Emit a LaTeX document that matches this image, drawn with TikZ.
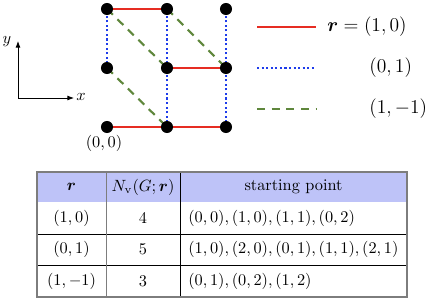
\documentclass[tikz,border=0pt]{standalone}
\usepackage{amsmath,bm}
\usetikzlibrary{arrows.meta,backgrounds}
\definecolor{redE}{RGB}{230,45,35}
\definecolor{blueE}{RGB}{30,60,235}
\definecolor{greenE}{RGB}{95,135,60}
\definecolor{headF}{RGB}{190,195,248}
\definecolor{borderG}{RGB}{125,125,125}
\begin{document}
\begin{tikzpicture}[x=0.6135pt,y=-0.6135pt,
  dot/.style={circle,fill=black,inner sep=0pt,minimum size=7.4pt},
  rline/.style={draw=redE,line width=1.4pt},
  bline/.style={draw=blueE,line width=1.4pt,dash pattern=on 1.3pt off 1.5pt},
  gline/.style={draw=greenE,line width=1.3pt,dash pattern=on 5pt off 4pt},
  leg/.style={font=\fontsize{12.7}{15}\selectfont,anchor=west,inner sep=0pt},
  cell/.style={inner sep=0pt},
  axisarrow/.style={draw=black,line width=0.5pt,-{Latex[length=4pt,width=3pt]}},
  rowline/.style={draw=black,line width=0.6pt},
  frame/.style={draw=borderG,line width=1pt}
]
\useasboundingbox (0,0) rectangle (436,301);

% lattice points
\node[dot] (v00) at (107,127) {};
\node[dot] (v10) at (167,127) {};
\node[dot] (v20) at (226,127) {};
\node[dot] (v01) at (107,68) {};
\node[dot] (v11) at (167,68) {};
\node[dot] (v21) at (226,68) {};
\node[dot] (v02) at (107,9) {};
\node[dot] (v12) at (167,9) {};
\node[dot] (v22) at (226,9) {};

\begin{scope}[on background layer]
  \draw[rline] (v00.center) -- (v10.center);
  \draw[rline] (v10.center) -- (v20.center);
  \draw[rline] (v11.center) -- (v21.center);
  \draw[rline] (v02.center) -- (v12.center);
  \draw[bline] (v01.center) -- (v02.center);
  \draw[bline] (v10.center) -- (v11.center);
  \draw[bline] (v11.center) -- (v12.center);
  \draw[bline] (v20.center) -- (v21.center);
  \draw[bline] (v21.center) -- (v22.center);
  \draw[gline] (v02.center) -- (v11.center);
  \draw[gline] (v01.center) -- (v10.center);
  \draw[gline] (v12.center) -- (v21.center);
\end{scope}

\node[cell] (orig) at (104,143) {$(0,0)$};

% axes
\coordinate (O) at (18,98);
\coordinate (Xe) at (74,98);
\coordinate (Ye) at (18,41);
\draw[axisarrow] (O) -- (Xe);
\draw[axisarrow] (O) -- (Ye);
\node[cell] (xl) at (81,97) {$x$};
\node[cell] (yl) at (7,42) {$y$};

% legend
\coordinate (L1a) at (257,27); \coordinate (L1b) at (316,27);
\coordinate (L2a) at (257,68); \coordinate (L2b) at (316,68);
\coordinate (L3a) at (257,109); \coordinate (L3b) at (316,109);
\draw[rline] (L1a) -- (L1b);
\draw[bline] (L2a) -- (L2b);
\draw[gline] (L3a) -- (L3b);
\node[leg] (t1) at (327,27) {$\bm{r}=(1,0)$};
\node[leg] (t2) at (369,68) {$(0,1)$};
\node[leg] (t3) at (369,109) {$(1,-1)$};

% table
\fill[headF] (37,172) rectangle (407,202);
\draw[rowline] (37,234) -- (407,234);
\draw[rowline] (37,265) -- (407,265);
\draw[draw=borderG,line width=0.6pt] (106,172) -- (106,297);
\draw[rowline] (180,172) -- (180,297);
\draw[frame] (37,172) rectangle (407,297);

\node[cell] (h1) at (71.5,187) {$\bm{r}$};
\node[cell] (h2) at (143,187) {$N_{\mathrm{v}}(G;\bm{r})$};
\node[cell] (h3) at (293.5,187) {starting point};

\node[cell] (a1) at (71.5,218) {$(1,0)$};
\node[cell] (a2) at (143,218) {$4$};
\node[cell,anchor=west] (a3) at (188,218) {$(0,0),(1,0),(1,1),(0,2)$};

\node[cell] (b1) at (71.5,249.5) {$(0,1)$};
\node[cell] (b2) at (143,249.5) {$5$};
\node[cell,anchor=west] (b3) at (188,249.5) {$(1,0),(2,0),(0,1),(1,1),(2,1)$};

\node[cell] (c1) at (71.5,281) {$(1,-1)$};
\node[cell] (c2) at (143,281) {$3$};
\node[cell,anchor=west] (c3) at (188,281) {$(0,1),(0,2),(1,2)$};
\end{tikzpicture}
\end{document}
